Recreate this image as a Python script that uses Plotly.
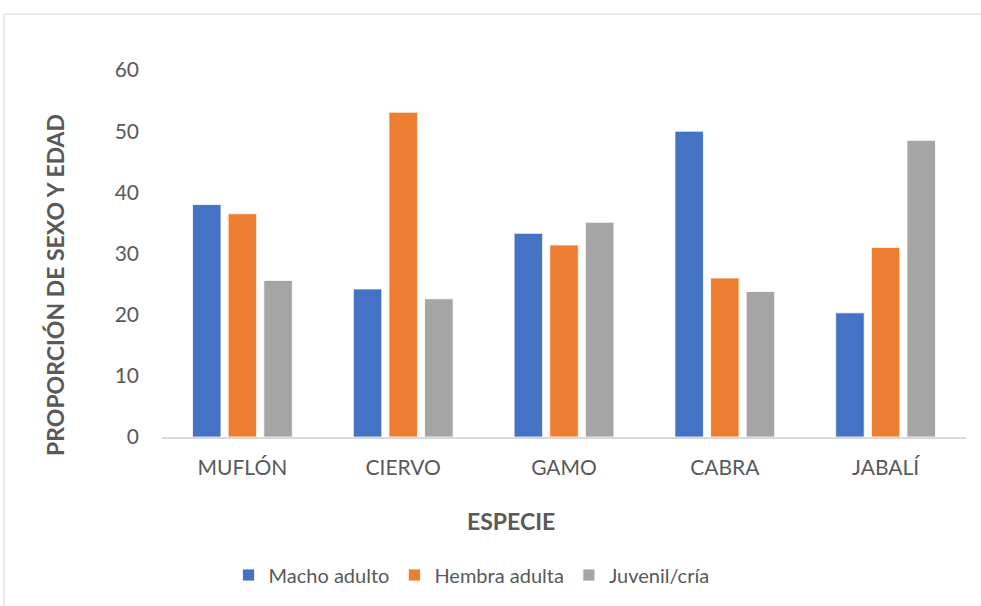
import plotly.graph_objects as go

categories = ["MUFLÓN", "CIERVO", "GAMO", "CABRA", "JABALÍ"]
macho = [38.0, 24.2, 33.3, 50.0, 20.3]
hembra = [36.5, 53.1, 31.4, 26.0, 31.0]
juvenil = [25.6, 22.6, 35.1, 23.8, 48.5]
series_names = ["Macho adulto", "Hembra adulta", "Juvenil/cría"]
colors = ["#4472C4", "#ED7D31", "#A5A5A5"]
y_ticks = [0, 10, 20, 30, 40, 50, 60]

FONT = "Lato, 'Open Sans', sans-serif"
GREY = "#595959"

W, H = 981, 606
L, R, T, B = 162, 15, 70, 169
pw, ph = W - L - R, H - T - B

def px_x(x):
    return (x - L) / pw

def px_y(y):
    return (H - B - y) / ph

fig = go.Figure()
for name, vals, c in zip(series_names, [macho, hembra, juvenil], colors):
    fig.add_trace(go.Bar(x=categories, y=vals, name=name,
                         marker=dict(color=c, line=dict(color="white", width=0.8))))

fig.update_layout(
    width=W, height=H,
    margin=dict(l=L, r=R, t=T, b=B, autoexpand=False),
    paper_bgcolor="white", plot_bgcolor="white",
    barmode="group", bargap=0.335, bargroupgap=0.2,
    font=dict(family=FONT, size=20, color=GREY),
    showlegend=True,
    legend=dict(orientation="h", x=0.385, xanchor="center", y=px_y(575), yanchor="middle",
                font=dict(size=20, color=GREY), itemwidth=30, tracegroupgap=0,
                traceorder="normal"),
    xaxis=dict(showgrid=False, showline=True, linecolor="#D9D9D9", linewidth=2,
               ticks="", ticklabelstandoff=11, tickfont=dict(size=21, color=GREY),
               zeroline=False, fixedrange=True),
    yaxis=dict(range=[0, 60], tickvals=y_ticks, showgrid=False, showline=False,
               zeroline=False, ticks="", ticklabelstandoff=22,
               tickfont=dict(size=21, color=GREY), fixedrange=True),
    annotations=[
        dict(text="<b>ESPECIE</b>", x=px_x(511), y=px_y(521), xref="paper", yref="paper",
             showarrow=False, font=dict(size=23, color=GREY), xanchor="center", yanchor="middle"),
        dict(text="<b>PROPORCIÓN DE SEXO Y EDAD</b>", x=px_x(55), y=px_y(285), xref="paper",
             yref="paper", showarrow=False, textangle=-90, font=dict(size=23, color=GREY),
             xanchor="center", yanchor="middle"),
    ],
    shapes=[
        dict(type="line", xref="paper", yref="paper", x0=px_x(4), x1=px_x(990),
             y0=px_y(14), y1=px_y(14), line=dict(color="#D9D9D9", width=1)),
        dict(type="line", xref="paper", yref="paper", x0=px_x(4), x1=px_x(4),
             y0=px_y(14), y1=px_y(620), line=dict(color="#D9D9D9", width=1)),
    ],
)

fig.write_html("out.html", config={"displayModeBar": False},
               post_script="document.body.style.margin='0';document.body.style.overflow='hidden';")
